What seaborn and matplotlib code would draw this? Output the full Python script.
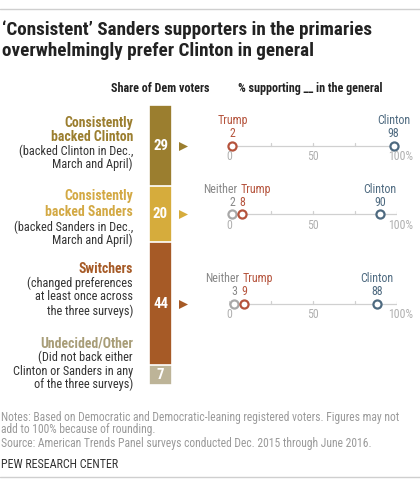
import numpy as np
import pandas as pd
import matplotlib
matplotlib.use('Agg')
import matplotlib.pyplot as plt
from matplotlib import font_manager
import seaborn as sns

# ----------------- data -----------------
groups = ['Consistently backed Clinton', 'Consistently backed Sanders', 'Switchers', 'Undecided/Other']
shares = [29, 20, 44, 7]
seg_colors = ['#9B7E2F', '#D6AC3C', '#A65A26', '#BDB498']
label_colors = ['#9B7E2F', '#D3A944', '#A65A26', '#A89D78']

# % supporting in the general (rows for the first three groups)
trump = [2, 8, 9]
clinton = [98, 90, 88]
neither = [None, 2, 3]
ticks = [0, 25, 50, 75, 100]
tick_labels = ['0', '50', '100%']

TRUMP_C = '#B5533C'
CLINTON_C = '#4E6A80'
NEITHER_C = '#A8A8A8'

sns.set_theme(style='white')
# prefer a condensed face if one is around, else Liberation Sans
installed = {f.name for f in font_manager.fontManager.ttflist}
family = 'Liberation Sans'
for name in ['Roboto Condensed', 'Liberation Sans Narrow', 'Open Sans Condensed']:
    if name in installed:
        family = name
        break
plt.rcParams['font.family'] = [family, 'DejaVu Sans']

W, H = 420, 488
fig = plt.figure(figsize=(W / 100, H / 100), dpi=100)
renderer = fig.canvas.get_renderer()

bg = fig.add_axes([0, 0, 1, 1])
bg.set_xlim(0, W)
bg.set_ylim(H, 0)
bg.axis('off')


def px_axes(x0, y0, w, h):
    return fig.add_axes([x0 / W, 1 - (y0 + h) / H, w / W, h / H])


def size_for(text, width_px, weight='normal'):
    # font size that makes `text` about width_px wide
    t = bg.text(0, 0, text, fontsize=10, fontweight=weight)
    w = t.get_window_extent(renderer).width
    t.remove()
    return 10 * width_px / w


fs_title = size_for('\u2018Consistent\u2019 Sanders supporters in the primaries', 370, 'bold')
fs_head = size_for('Share of Dem voters', 99, 'bold')
fs_bold = size_for('Consistently', 69, 'bold')
fs_body = size_for('(backed Clinton in Dec.,', 114)
fs_dot = size_for('Clinton', 33)
fs_note = size_for('Notes: Based on Democratic and Democratic-leaning registered voters. Figures may not', 399)
fs_pew = size_for('PEW RESEARCH CENTER', 118)
fs_num = size_for('29', 15, 'bold')

# rules top and bottom
bg.plot([0, W], [9, 9], color='#CFCFCF', lw=1)
bg.plot([0, W], [477, 477], color='#CFCFCF', lw=1)

# title
bg.text(2, 35, '\u2018Consistent\u2019 Sanders supporters in the primaries',
        fontsize=fs_title, fontweight='bold', color='#222222', va='baseline')
bg.text(2, 56, 'overwhelmingly prefer Clinton in general',
        fontsize=fs_title, fontweight='bold', color='#222222', va='baseline')

# column headers
bg.text(111, 92, 'Share of Dem voters', fontsize=fs_head, fontweight='bold',
        color='#222222', ha='left', va='baseline')
bg.text(238, 92, '% supporting __ in the general', fontsize=fs_head, fontweight='bold',
        color='#222222', ha='left', va='baseline')

# ----------------- stacked bar -----------------
BAR_X, BAR_TOP, BAR_W, BAR_H = 149, 105, 23, 280
bar_ax = px_axes(BAR_X, BAR_TOP, BAR_W, BAR_H)
cum = np.cumsum(shares)
# layered bars: draw the longest first so each shorter one sits on top
for i in range(len(shares) - 1, -1, -1):
    df = pd.DataFrame({'g': ['all'], 'v': [cum[i]]})
    sns.barplot(data=df, x='g', y='v', color=seg_colors[i], width=1,
                edgecolor='white', linewidth=1.2, saturation=1, ax=bar_ax)
bar_ax.set_ylim(100, 0)
bar_ax.set_xlim(-0.5, 0.5)
bar_ax.axis('off')

centers = cum - np.array(shares) / 2
for i, (s, c) in enumerate(zip(shares, centers)):
    bar_ax.text(0, c, str(s), ha='center', va='center', color='white',
                fontsize=fs_num, fontweight='bold')
# arrows pointing to the dot rows
for i in range(len(trump)):
    bar_ax.scatter([0.98], [centers[i]], marker='>', s=42, color=seg_colors[i],
                   clip_on=False, linewidths=0)

# ----------------- left labels -----------------
LX = 133
left_lines = [
    [('Consistently', True, 123), ('backed Clinton', True, 137),
     ('(backed Clinton in Dec.,', False, 151), ('March and April)', False, 164)],
    [('Consistently', True, 196), ('backed Sanders', True, 212),
     ('(backed Sanders in Dec.,', False, 227), ('March and April)', False, 240)],
    [('Switchers', True, 269), ('(changed preferences', False, 283),
     ('at least once across', False, 297), ('the three surveys)', False, 311)],
    [('Undecided/Other', True, 343), ('(Did not back either', False, 357),
     ('Clinton or Sanders in any', False, 371), ('of the three surveys)', False, 384)],
]
for i, lines in enumerate(left_lines):
    for txt, bold, y in lines:
        bg.text(LX, y, txt, ha='right', va='center',
                fontsize=fs_bold if bold else fs_body,
                fontweight='bold' if bold else 'normal',
                color=label_colors[i] if bold else '#333333')

# ----------------- dot rows -----------------
DOT_X0, DOT_W = 229, 168
for i in range(len(trump)):
    yc = BAR_TOP + centers[i] * BAR_H / 100
    ax = px_axes(DOT_X0, yc - 10, DOT_W, 20)
    ax.set_xlim(0, 100)
    ax.set_ylim(-1, 1)
    ax.axis('off')
    ax.plot([0, 100], [0, 0], color='#D0D0D0', lw=0.9, zorder=1)
    for t in ticks:
        ax.plot([t, t], [0, 0.3], color='#D0D0D0', lw=0.9, zorder=1)

    series = [(trump[i], TRUMP_C), (clinton[i], CLINTON_C)]
    if neither[i] is not None:
        series.insert(0, (neither[i], NEITHER_C))
    for v, c in series:
        sns.scatterplot(x=[v], y=[0], ax=ax, s=34, marker='o',
                        facecolor='white', edgecolor=c, linewidth=1.6,
                        zorder=3, clip_on=False, legend=False)

    # 1 y unit = 10 px
    ylab_val, ylab_name, ylab_tick = 1.2, 2.5, -1.1
    if neither[i] is None:
        ax.text(trump[i], ylab_val, str(trump[i]), color=TRUMP_C, ha='center',
                va='center', fontsize=fs_dot, clip_on=False)
        ax.text(trump[i], ylab_name, 'Trump', color=TRUMP_C, ha='center',
                va='center', fontsize=fs_dot, clip_on=False)
    else:
        ax.text(neither[i], ylab_val, str(neither[i]), color='#888888', ha='center',
                va='center', fontsize=fs_dot, clip_on=False)
        ax.text(trump[i], ylab_val, str(trump[i]), color=TRUMP_C, ha='center',
                va='center', fontsize=fs_dot, clip_on=False)
        ax.text(neither[i] + 3, ylab_name, 'Neither', color='#888888', ha='right',
                va='center', fontsize=fs_dot, clip_on=False)
        ax.text(trump[i] - 1, ylab_name, 'Trump', color=TRUMP_C, ha='left',
                va='center', fontsize=fs_dot, clip_on=False)
    ax.text(clinton[i], ylab_val, str(clinton[i]), color=CLINTON_C, ha='center',
            va='center', fontsize=fs_dot, clip_on=False)
    ax.text(clinton[i], ylab_name, 'Clinton', color=CLINTON_C, ha='center',
            va='center', fontsize=fs_dot, clip_on=False)

    for t, lab in zip([0, 50, 100], tick_labels):
        ax.text(t - 5 if lab.endswith('%') else t, ylab_tick, lab,
                ha='left' if lab.endswith('%') else 'center', va='center',
                color='#B0B0B0', fontsize=fs_dot, clip_on=False)

# ----------------- notes -----------------
note_c = '#9A9A9A'
bg.text(1, 417, 'Notes: Based on Democratic and Democratic-leaning registered voters. Figures may not',
        fontsize=fs_note, color=note_c, va='center')
bg.text(1, 430, 'add to 100% because of rounding.', fontsize=fs_note, color=note_c, va='center')
bg.text(1, 444, 'Source: American Trends Panel surveys conducted Dec. 2015 through June 2016.',
        fontsize=fs_note, color=note_c, va='center')
bg.text(1, 465, 'PEW RESEARCH CENTER', fontsize=fs_pew, color='#333333', va='center')

fig.savefig('out.png', dpi=100)
